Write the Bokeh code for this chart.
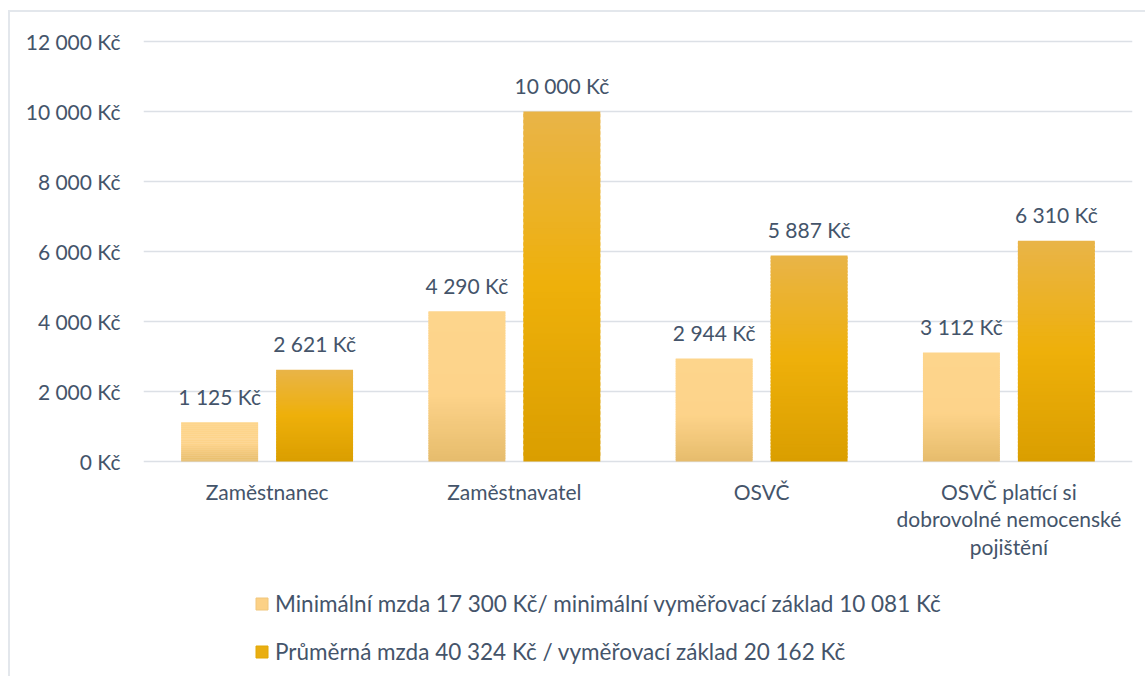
from bokeh.plotting import figure
from bokeh.models import (ColumnDataSource, FixedTicker, Legend, LegendItem, Range1d)
from bokeh.layouts import column
from bokeh.embed import file_html
from bokeh.resources import INLINE
from bokeh.core.properties import value

# ---------------- data ----------------
categories = ["Zaměstnanec", "Zaměstnavatel", "OSVČ",
              "OSVČ platící si\ndobrovolné nemocenské\npojištění"]
series_names = ["Minimální mzda 17 300 Kč/ minimální vyměřovací základ 10 081 Kč",
                "Průměrná mzda 40 324 Kč / vyměřovací základ 20 162 Kč"]
min_wage = [1125, 4290, 2944, 3112]
avg_wage = [2621, 10000, 5887, 6310]
value_labels_min = ["1 125 Kč", "4 290 Kč", "2 944 Kč", "3 112 Kč"]
value_labels_avg = ["2 621 Kč", "10 000 Kč", "5 887 Kč", "6 310 Kč"]
y_ticks = [0, 2000, 4000, 6000, 8000, 10000, 12000]
y_tick_labels = ["0 Kč", "2 000 Kč", "4 000 Kč", "6 000 Kč", "8 000 Kč",
                 "10 000 Kč", "12 000 Kč"]

# ---------------- style ----------------
FONT = "Lato"
FS = "21px"
TXT = "#44546A"
GRID = "#DCE0E6"
# gradient stops (position from bottom 0 -> top 1, colour)
light_stops = [(0.0, (230, 188, 108)), (0.45, (253, 211, 138)), (1.0, (253, 213, 140))]
dark_stops = [(0.0, (218, 158, 0)), (0.5, (238, 176, 10)), (1.0, (233, 180, 72))]
BAR_W = 0.311
OFF = 0.192
NSEG = 60


def interp(stops, t):
    for (p0, c0), (p1, c1) in zip(stops[:-1], stops[1:]):
        if p0 <= t <= p1:
            f = 0 if p1 == p0 else (t - p0) / (p1 - p0)
            c = tuple(int(round(a + (b - a) * f)) for a, b in zip(c0, c1))
            return "#%02x%02x%02x" % c
    return "#%02x%02x%02x" % stops[-1][1]


W = 1135
p = figure(width=W, height=556, output_backend="svg", toolbar_location=None,
           x_range=Range1d(-0.5, len(categories) - 0.5), y_range=Range1d(-57, 12086),
           min_border_left=133, min_border_right=13, min_border_top=26,
           min_border_bottom=105)
p.outline_line_color = None
p.background_fill_color = "white"
p.border_fill_color = "white"

xs = list(range(len(categories)))


def gradient_bars(vals, offset, stops):
    x = [i + offset for i in xs]
    for k in range(NSEG):
        t = (k + 0.5) / NSEG
        # each slice overlaps the next one a little so no seams show
        src = ColumnDataSource(dict(x=x,
                                    bottom=[v * k / NSEG for v in vals],
                                    top=[min(v, v * (k + 1.6) / NSEG) for v in vals]))
        c = interp(stops, t)
        p.vbar(x="x", bottom="bottom", top="top", width=BAR_W, source=src,
               fill_color=c, line_color=None)


gradient_bars(min_wage, -OFF, light_stops)
gradient_bars(avg_wage, OFF, dark_stops)

# data labels
for vals, labels, off in ((min_wage, value_labels_min, -OFF), (avg_wage, value_labels_avg, OFF)):
    src = ColumnDataSource(dict(x=[i + off for i in xs], y=vals, t=labels))
    p.text(x="x", y="y", text="t", source=src, text_align="center",
           text_baseline="alphabetic", y_offset=-26, text_color=TXT,
           text_font=value(FONT), text_font_size=FS)

# axes
p.yaxis.ticker = FixedTicker(ticks=y_ticks)
p.yaxis.major_label_overrides = {t: l for t, l in zip(y_ticks, y_tick_labels)}
p.xaxis.ticker = FixedTicker(ticks=xs)
p.xaxis.major_label_overrides = {i: c for i, c in zip(xs, categories)}
for ax in (p.xaxis[0], p.yaxis[0]):
    ax.axis_line_color = None
    ax.major_tick_line_color = None
    ax.minor_tick_line_color = None
    ax.major_label_text_color = TXT
    ax.major_label_text_font = FONT
    ax.major_label_text_font_size = FS
p.yaxis.major_label_standoff = 17
p.xaxis.major_label_standoff = 9
p.xaxis.major_label_text_line_height = 1.1

p.xgrid.grid_line_color = None
p.ygrid.grid_line_color = GRID
p.ygrid.grid_line_width = 1.6

# ---------------- legend strip ----------------
lg = figure(width=W, height=108, output_backend="svg", toolbar_location=None,
            x_axis_type=None, y_axis_type=None,
            x_range=Range1d(0, 1), y_range=Range1d(0, 1), min_border=0)
lg.outline_line_color = None
lg.grid.grid_line_color = None
lg.background_fill_color = "white"
lg.border_fill_color = "white"
r1 = lg.vbar(x=[-5], top=[0], width=0.001, fill_color="#FCD186", line_color="#F0C67C")
r2 = lg.vbar(x=[-5], top=[0], width=0.001, fill_color="#E9AE12", line_color="#E2A806")
legend = Legend(items=[LegendItem(label=series_names[0], renderers=[r1]),
                       LegendItem(label=series_names[1], renderers=[r2])],
                location=(111, 11), orientation="vertical",
                glyph_width=15, glyph_height=15, label_standoff=6, spacing=21,
                label_height=24, padding=0, margin=0, border_line_color=None,
                background_fill_alpha=0, label_text_font=FONT,
                label_text_font_size="22.5px", label_text_color=TXT)
lg.add_layout(legend, "center")

layout = column(p, lg, spacing=0,
                styles={"border-left": "2px solid #E3E7EC", "border-top": "2px solid #E3E7EC",
                        "margin-left": "8px", "margin-top": "10px"})

open("out.html", "w").write(file_html(layout, INLINE))
